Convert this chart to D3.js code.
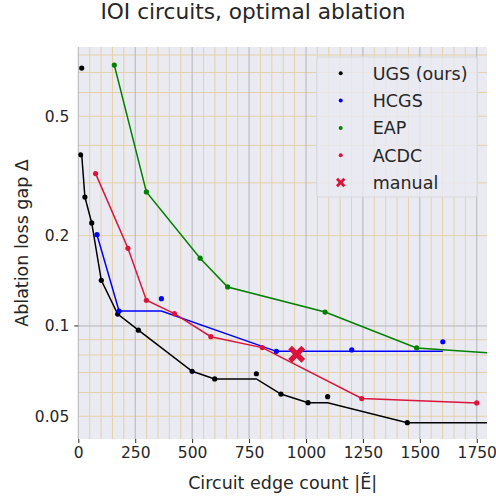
<!DOCTYPE html>
<html>
<head>
<meta charset="utf-8">
<script src="https://cdn.jsdelivr.net/npm/d3@7"></script>
<style>
  body { margin: 0; background: #fff; }
  text { font-family: "DejaVu Sans", sans-serif; fill: #262626; }
</style>
</head>
<body>
<div id="chart"></div>
<script>
// Data (x = edge count, y = ablation loss gap)
var ugsX = [10, 15, 29, 59, 101, 173, 264, 500, 599, 782, 890, 1009, 1095, 1445, 2000];
var ugsY = [0.372, 0.724, 0.269, 0.2205, 0.142, 0.1096, 0.0968, 0.0706, 0.0666, 0.0693, 0.0593, 0.0555, 0.0581, 0.0476, 0.049];

var hcgsX = [82, 179, 365, 870, 1201, 1601];
var hcgsY = [0.2015, 0.1122, 0.1233, 0.0823, 0.0832, 0.0886];

var eapX = [158, 299, 535, 656, 1084, 1486, 2000];
var eapY = [0.741, 0.2797, 0.1683, 0.1349, 0.1113, 0.0845, 0.0795];

var acdcX = [76, 218, 299, 422, 582, 808, 1245, 1750];
var acdcY = [0.322, 0.1815, 0.1218, 0.1099, 0.0921, 0.0847, 0.0573, 0.0554];

var manualX = [959];
var manualY = [0.0805];

var xTicks = [0, 250, 500, 750, 1000, 1250, 1500, 1750];
var yTicks = [0.05, 0.1, 0.2, 0.5];

var svgWidth = 496;
var svgHeight = 497;
var margin = {top: 47, right: 9, bottom: 58, left: 78.3};
var chartWidth = svgWidth - margin.left - margin.right;
var chartHeight = svgHeight - margin.top - margin.bottom;

var svg = d3.select("#chart").append("svg")
    .attr("width", svgWidth)
    .attr("height", svgHeight);

var chartGroup = svg.append("g")
    .attr("transform", `translate(${margin.left}, ${margin.top})`);

var xScale = d3.scaleLinear().domain([0, 1795]).range([0, chartWidth]);
var yScale = d3.scaleLog().domain([0.042, 0.851]).range([chartHeight, 0]);

chartGroup.append("rect")
    .attr("width", chartWidth)
    .attr("height", chartHeight)
    .attr("fill", "#eaeaf2");

svg.append("defs").append("clipPath").attr("id", "clip")
    .append("rect").attr("width", chartWidth).attr("height", chartHeight);

// grid: minor (tan) then major (gray)
var minorX = d3.range(0, 1800, 50).filter(d => d % 250 !== 0);
var minorY = [];
[0.01, 0.1].forEach(function(dec) {
    d3.range(2, 10).forEach(function(m) { minorY.push(dec * m); });
});
minorY = minorY.filter(d => d > 0.042 && d < 0.851);

var grid = chartGroup.append("g");
grid.selectAll(".mx").data(minorX).enter().append("line")
    .attr("x1", d => xScale(d)).attr("x2", d => xScale(d))
    .attr("y1", 0).attr("y2", chartHeight)
    .attr("stroke", "#e5d1a8").attr("stroke-width", 1);
grid.selectAll(".my").data(minorY).enter().append("line")
    .attr("x1", 0).attr("x2", chartWidth)
    .attr("y1", d => yScale(d)).attr("y2", d => yScale(d))
    .attr("stroke", "#e5d1a8").attr("stroke-width", 1);
grid.selectAll(".Mx").data(xTicks).enter().append("line")
    .attr("x1", d => xScale(d)).attr("x2", d => xScale(d))
    .attr("y1", 0).attr("y2", chartHeight)
    .attr("stroke", "#b4b4b8").attr("stroke-width", 1);
grid.append("line")
    .attr("x1", 0).attr("x2", chartWidth)
    .attr("y1", yScale(0.1)).attr("y2", yScale(0.1))
    .attr("stroke", "#b4b4b8").attr("stroke-width", 1);

// axes
var xAxis = d3.axisBottom(xScale).tickValues(xTicks).tickFormat(d3.format("d")).tickSize(4).tickPadding(4);
var yAxis = d3.axisLeft(yScale).tickValues(yTicks).tickFormat(d3.format("")).tickSize(0).tickPadding(9);

var gx = chartGroup.append("g")
    .attr("transform", `translate(0, ${chartHeight})`)
    .call(xAxis);
var gy = chartGroup.append("g").call(yAxis);
[gx, gy].forEach(function(g) {
    g.select(".domain").remove();
    g.selectAll("text").style("font-size", "15.5px").attr("fill", "#262626");
    g.selectAll("line").attr("stroke", "#262626");
});
// small tick on the decade line only
gy.append("line").attr("x1", -4).attr("x2", 0)
    .attr("y1", yScale(0.1)).attr("y2", yScale(0.1)).attr("stroke", "#262626");

// frontier = running minimum over points sorted by x
function frontier(xs, ys) {
    var pts = xs.map((x, i) => [x, ys[i]]).sort((a, b) => a[0] - b[0]);
    var best = Infinity;
    return pts.map(function(p) { best = Math.min(best, p[1]); return [p[0], best]; });
}

var series = [
    {name: "UGS (ours)", x: ugsX, y: ugsY, color: "black"},
    {name: "HCGS", x: hcgsX, y: hcgsY, color: "blue"},
    {name: "EAP", x: eapX, y: eapY, color: "green"},
    {name: "ACDC", x: acdcX, y: acdcY, color: "crimson"}
];

var line = d3.line().x(d => xScale(d[0])).y(d => yScale(d[1]));
var plot = chartGroup.append("g").attr("clip-path", "url(#clip)");

series.forEach(function(s) {
    plot.append("path")
        .datum(frontier(s.x, s.y))
        .attr("d", line)
        .attr("fill", "none")
        .attr("stroke", s.color)
        .attr("stroke-width", 1.5);
});
series.forEach(function(s) {
    plot.append("g").selectAll("circle")
        .data(s.x.map((x, i) => [x, s.y[i]]))
        .enter().append("circle")
        .attr("cx", d => xScale(d[0]))
        .attr("cy", d => yScale(d[1]))
        .attr("r", 2.6)
        .attr("fill", s.color);
});

function xMarker(size) {
    // filled "X" like matplotlib's marker
    var a = size / 2, w = size * 0.22;
    return `M${-a + w},${-a} L0,${-w} L${a - w},${-a} L${a},${-a + w} L${w},0 L${a},${a - w} L${a - w},${a} L0,${w} L${-a + w},${a} L${-a},${a - w} L${-w},0 L${-a},${-a + w} Z`;
}
plot.append("g").selectAll("path")
    .data(manualX.map((x, i) => [x, manualY[i]]))
    .enter().append("path")
    .attr("d", xMarker(17))
    .attr("transform", d => `translate(${xScale(d[0])}, ${yScale(d[1])})`)
    .attr("fill", "crimson");

// legend
var legend = svg.append("g").attr("transform", "translate(316.7, 57)");
legend.append("rect")
    .attr("width", 161).attr("height", 140)
    .attr("rx", 3)
    .attr("fill", "#eaeaf2").attr("fill-opacity", 0.8)
    .attr("stroke", "#d8d8dc");
var legendItems = series.concat([{name: "manual", color: "crimson", cross: true}]);
legendItems.forEach(function(s, i) {
    var row = legend.append("g").attr("transform", `translate(0, ${16.3 + i * 27.3})`);
    if (s.cross) {
        row.append("path").attr("d", xMarker(9.5)).attr("transform", "translate(24, 0)").attr("fill", s.color);
    } else {
        row.append("circle").attr("cx", 24).attr("cy", 0).attr("r", 2).attr("fill", s.color);
    }
    row.append("text").attr("x", 56).attr("y", 6.3)
        .style("font-size", "17.5px").text(s.name);
});

// labels
svg.append("text")
    .attr("x", 253).attr("y", 19)
    .attr("text-anchor", "middle")
    .style("font-size", "21.7px")
    .text("IOI circuits, optimal ablation");

svg.append("text")
    .attr("transform", `translate(28, ${margin.top + chartHeight / 2}) rotate(-90)`)
    .attr("text-anchor", "middle")
    .style("font-size", "17.5px")
    .text("Ablation loss gap Δ");

svg.append("text")
    .attr("x", margin.left + chartWidth / 2).attr("y", 489)
    .attr("text-anchor", "middle")
    .style("font-size", "17.5px")
    .text("Circuit edge count |Ẽ|");
</script>
</body>
</html>
